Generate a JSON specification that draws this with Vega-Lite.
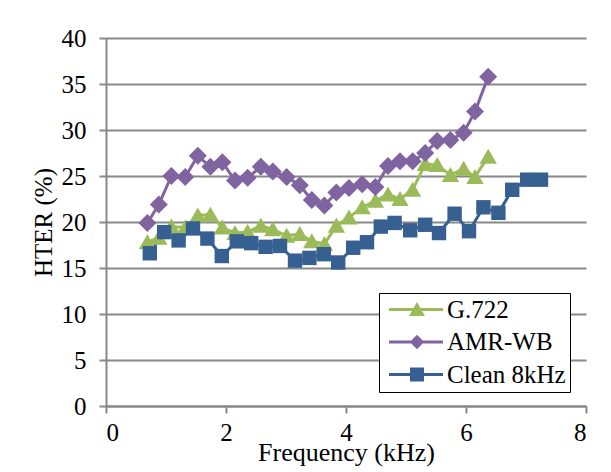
{
  "$schema": "https://vega.github.io/schema/vega-lite/v6.json",
  "width": 480,
  "height": 368,
  "autosize": {"type": "none"},
  "padding": {"left": 106, "top": 38, "right": 25, "bottom": 66},
  "background": "white",
  "config": {
    "view": {"stroke": null},
    "axis": {
      "domainColor": "#888888", "domainWidth": 2,
      "tickColor": "#888888", "tickWidth": 2, "tickSize": 7,
      "gridColor": "#888888", "gridWidth": 2,
      "labelColor": "#000000", "titleColor": "#000000", "titleFontWeight": "normal"
    }
  },
  "data": {"values": [
    {"series": "G.722", "f": 0.69, "hter": 17.8},
    {"series": "G.722", "f": 0.88, "hter": 18.3},
    {"series": "G.722", "f": 1.09, "hter": 19.5},
    {"series": "G.722", "f": 1.32, "hter": 19.4},
    {"series": "G.722", "f": 1.53, "hter": 20.7},
    {"series": "G.722", "f": 1.74, "hter": 20.8},
    {"series": "G.722", "f": 1.94, "hter": 19.4},
    {"series": "G.722", "f": 2.15, "hter": 18.8},
    {"series": "G.722", "f": 2.36, "hter": 18.9},
    {"series": "G.722", "f": 2.58, "hter": 19.6},
    {"series": "G.722", "f": 2.78, "hter": 19.2},
    {"series": "G.722", "f": 3.01, "hter": 18.5},
    {"series": "G.722", "f": 3.23, "hter": 18.7},
    {"series": "G.722", "f": 3.43, "hter": 17.9},
    {"series": "G.722", "f": 3.64, "hter": 17.6},
    {"series": "G.722", "f": 3.84, "hter": 19.6},
    {"series": "G.722", "f": 4.05, "hter": 20.5},
    {"series": "G.722", "f": 4.27, "hter": 21.6},
    {"series": "G.722", "f": 4.49, "hter": 22.3},
    {"series": "G.722", "f": 4.70, "hter": 23.0},
    {"series": "G.722", "f": 4.90, "hter": 22.5},
    {"series": "G.722", "f": 5.11, "hter": 23.5},
    {"series": "G.722", "f": 5.32, "hter": 26.3},
    {"series": "G.722", "f": 5.52, "hter": 26.2},
    {"series": "G.722", "f": 5.74, "hter": 25.1},
    {"series": "G.722", "f": 5.96, "hter": 25.8},
    {"series": "G.722", "f": 6.15, "hter": 24.9},
    {"series": "G.722", "f": 6.37, "hter": 27.1},
    {"series": "AMR-WB", "f": 0.69, "hter": 19.9},
    {"series": "AMR-WB", "f": 0.88, "hter": 21.9},
    {"series": "AMR-WB", "f": 1.09, "hter": 25.0},
    {"series": "AMR-WB", "f": 1.32, "hter": 24.9},
    {"series": "AMR-WB", "f": 1.53, "hter": 27.2},
    {"series": "AMR-WB", "f": 1.74, "hter": 26.0},
    {"series": "AMR-WB", "f": 1.94, "hter": 26.5},
    {"series": "AMR-WB", "f": 2.15, "hter": 24.5},
    {"series": "AMR-WB", "f": 2.36, "hter": 24.8},
    {"series": "AMR-WB", "f": 2.58, "hter": 26.0},
    {"series": "AMR-WB", "f": 2.78, "hter": 25.5},
    {"series": "AMR-WB", "f": 3.01, "hter": 24.9},
    {"series": "AMR-WB", "f": 3.23, "hter": 24.0},
    {"series": "AMR-WB", "f": 3.43, "hter": 22.4},
    {"series": "AMR-WB", "f": 3.64, "hter": 21.8},
    {"series": "AMR-WB", "f": 3.84, "hter": 23.2},
    {"series": "AMR-WB", "f": 4.05, "hter": 23.7},
    {"series": "AMR-WB", "f": 4.27, "hter": 24.1},
    {"series": "AMR-WB", "f": 4.49, "hter": 23.8},
    {"series": "AMR-WB", "f": 4.70, "hter": 26.1},
    {"series": "AMR-WB", "f": 4.90, "hter": 26.6},
    {"series": "AMR-WB", "f": 5.11, "hter": 26.6},
    {"series": "AMR-WB", "f": 5.32, "hter": 27.5},
    {"series": "AMR-WB", "f": 5.52, "hter": 28.8},
    {"series": "AMR-WB", "f": 5.74, "hter": 28.9},
    {"series": "AMR-WB", "f": 5.96, "hter": 29.7},
    {"series": "AMR-WB", "f": 6.15, "hter": 32.0},
    {"series": "AMR-WB", "f": 6.37, "hter": 35.8},
    {"series": "Clean 8kHz", "f": 0.73, "hter": 16.6},
    {"series": "Clean 8kHz", "f": 0.97, "hter": 18.9},
    {"series": "Clean 8kHz", "f": 1.21, "hter": 18.0},
    {"series": "Clean 8kHz", "f": 1.45, "hter": 19.3},
    {"series": "Clean 8kHz", "f": 1.69, "hter": 18.2},
    {"series": "Clean 8kHz", "f": 1.93, "hter": 16.3},
    {"series": "Clean 8kHz", "f": 2.18, "hter": 17.9},
    {"series": "Clean 8kHz", "f": 2.42, "hter": 17.7},
    {"series": "Clean 8kHz", "f": 2.66, "hter": 17.3},
    {"series": "Clean 8kHz", "f": 2.90, "hter": 17.4},
    {"series": "Clean 8kHz", "f": 3.15, "hter": 15.8},
    {"series": "Clean 8kHz", "f": 3.39, "hter": 16.1},
    {"series": "Clean 8kHz", "f": 3.63, "hter": 16.5},
    {"series": "Clean 8kHz", "f": 3.87, "hter": 15.6},
    {"series": "Clean 8kHz", "f": 4.12, "hter": 17.2},
    {"series": "Clean 8kHz", "f": 4.35, "hter": 17.8},
    {"series": "Clean 8kHz", "f": 4.58, "hter": 19.5},
    {"series": "Clean 8kHz", "f": 4.81, "hter": 19.9},
    {"series": "Clean 8kHz", "f": 5.07, "hter": 19.1},
    {"series": "Clean 8kHz", "f": 5.32, "hter": 19.7},
    {"series": "Clean 8kHz", "f": 5.55, "hter": 18.8},
    {"series": "Clean 8kHz", "f": 5.81, "hter": 20.9},
    {"series": "Clean 8kHz", "f": 6.05, "hter": 19.0},
    {"series": "Clean 8kHz", "f": 6.29, "hter": 21.6},
    {"series": "Clean 8kHz", "f": 6.54, "hter": 21.0},
    {"series": "Clean 8kHz", "f": 6.77, "hter": 23.5},
    {"series": "Clean 8kHz", "f": 7.02, "hter": 24.6},
    {"series": "Clean 8kHz", "f": 7.25, "hter": 24.6}
  ]},
  "encoding": {
    "x": {
      "field": "f", "type": "quantitative",
      "scale": {"domain": [0, 8], "nice": false, "zero": false},
      "axis": {
        "values": [0, 2, 4, 6, 8], "grid": false,
        "title": "Frequency (kHz)",
        "labelFont": "Liberation Serif", "labelFontSize": 25,
        "titleFont": "Liberation Serif", "titleFontSize": 26,
        "labelBaseline": "alphabetic", "labelPadding": 27,
        "titleY": 54, "titleBaseline": "alphabetic"
      }
    },
    "y": {
      "field": "hter", "type": "quantitative",
      "scale": {"domain": [0, 40], "nice": false},
      "axis": {
        "values": [0, 5, 10, 15, 20, 25, 30, 35, 40], "grid": true,
        "title": "HTER (%)",
        "labelFont": "Liberation Serif", "labelFontSize": 25,
        "titleFont": "Liberation Serif", "titleFontSize": 25,
        "labelPadding": 13, "labelBaseline": "middle",
        "titleX": -63, "titleY": 184, "titleBaseline": "middle", "titleAlign": "center", "titleAngle": -90
      }
    },
    "color": {
      "field": "series", "type": "nominal",
      "scale": {"domain": ["G.722", "AMR-WB", "Clean 8kHz"], "range": ["#9BBB59", "#8064A2", "#376092"]},
      "legend": {
        "title": null, "orient": "none", "legendX": 273, "legendY": 255,
        "direction": "vertical",
        "strokeColor": "#000000", "fillColor": "#ffffff",
        "padding": 4, "rowPadding": 6.5,
        "symbolSize": 400, "symbolStrokeWidth": 0, "symbolOpacity": 1,
        "labelFont": "Liberation Serif", "labelFontSize": 25, "labelColor": "#000000",
        "labelOffset": 39, "labelLimit": 300
      }
    }
  },
  "layer": [
    {
      "mark": {"type": "line", "strokeWidth": 3}
    },
    {
      "transform": [{"filter": "datum.series === 'G.722'"}],
      "mark": {"type": "point", "filled": true, "opacity": 1, "size": 400, "strokeWidth": 0, "shape": "M0,-0.8L0.87,0.7L-0.87,0.7Z"}
    },
    {
      "transform": [{"filter": "datum.series === 'AMR-WB'"}],
      "mark": {"type": "point", "filled": true, "opacity": 1, "size": 400, "strokeWidth": 0, "shape": "M0,-0.9L0.9,0L0,0.9L-0.9,0Z"}
    },
    {
      "transform": [{"filter": "datum.series === 'Clean 8kHz'"}],
      "mark": {"type": "point", "filled": true, "opacity": 1, "size": 400, "strokeWidth": 0, "shape": "M-0.72,-0.72H0.72V0.72H-0.72Z"}
    },
    {
      "mark": {"type": "point", "filled": true, "opacity": 0, "size": 400, "strokeWidth": 0},
      "encoding": {
        "shape": {
          "field": "series", "type": "nominal",
          "scale": {"domain": ["G.722", "AMR-WB", "Clean 8kHz"], "range": [
            "M-0.65,-0.15H4.75V0.15H-0.65Z M2.15,-0.75L2.95,0.65L1.35,0.65Z",
            "M-0.65,-0.15H4.75V0.15H-0.65Z M2.15,-0.72L2.87,0L2.15,0.72L1.43,0Z",
            "M-0.65,-0.15H4.75V0.15H-0.65Z M1.45,-0.7H2.85V0.7H1.45Z"
          ]},
          "legend": {
            "title": null, "orient": "none", "legendX": 273, "legendY": 255,
            "direction": "vertical",
            "strokeColor": "#000000", "fillColor": "#ffffff",
            "padding": 4, "rowPadding": 6.5,
            "symbolSize": 400, "symbolStrokeWidth": 0, "symbolOpacity": 1,
            "labelFont": "Liberation Serif", "labelFontSize": 25, "labelColor": "#000000",
            "labelOffset": 39, "labelLimit": 300
          }
        }
      }
    }
  ]
}
